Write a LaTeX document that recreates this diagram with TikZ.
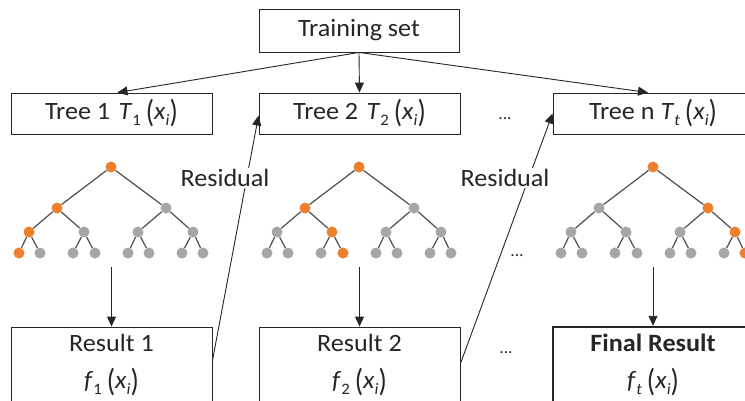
\documentclass[tikz,border=0pt]{standalone}
\usepackage{fontspec}
\usepackage{graphicx}
\setmainfont{Carlito}[FakeStretch=1.05]
\usetikzlibrary{arrows.meta,calc}
\definecolor{treeorange}{HTML}{EE7F2D}
\definecolor{treegray}{HTML}{A6A6A6}
\definecolor{edgegray}{HTML}{4D4D4D}
\newcommand\sbx[1]{\raisebox{-0.25em}{\fontsize{16}{16}\selectfont #1}}
\newcommand\prn[1]{\raisebox{-0.14em}{\scalebox{1.05}[1.28]{#1}}}
\newcommand\fxi[2]{\textit{#1}\sbx{#2}\hspace{0.2em}\prn{(}\textit{x}\sbx{\textit{i}}\prn{)}}
\tikzset{
  box/.style={draw=black!85, line width=0.9bp, minimum width=201bp, minimum height=41bp, inner sep=0pt, font=\fontsize{25}{37}\selectfont, text=black!85},
  resbox/.style={box, minimum height=76bp, align=center},
  arr/.style={draw=black!85, line width=0.9bp, -{Triangle[length=10bp,width=9bp]}},
  dot/.style={circle, inner sep=0pt, minimum size=11bp},
  treeedge/.style={draw=edgegray, line width=1.2bp},
  lbl/.style={font=\fontsize{25}{30}\selectfont, text=black!85, fill=white, inner sep=1bp},
  ell/.style={font=\fontsize{17}{17}\selectfont, text=black!85, inner sep=0pt}
}
\newcommand\gbtree[3]{%
  \foreach \k/\dx/\dy in {1/0/0,2/-54/41,3/55/41,4/-82/65,5/-27/65,6/27/65,7/82/65,
      8/-92/86,9/-71/86,10/-38/86,11/-16/86,12/17/86,13/38/86,14/71/86,15/92/86}{%
    \gdef\dotcol{treegray}%
    \foreach \o in {#3}{\ifnum\o=\k\relax\gdef\dotcol{treeorange}\fi}%
    \node[dot, fill=\dotcol] (#1\k) at (#2+\dx, 167+\dy) {};
  }
  \foreach \k in {2,...,15}{%
    \pgfmathtruncatemacro\parentidx{\k/2}%
    \draw[treeedge] (#1\parentidx) -- (#1\k);
  }
}
\begin{document}
\begin{tikzpicture}[x=1bp,y=-1bp]
\useasboundingbox (0,0) rectangle (745,400);
\clip (0,0) rectangle (745,400);
\fill[white] (0,0) rectangle (745,400);

% top
\node[box, minimum width=200bp, minimum height=43bp] (train) at (359,30.5) {Training set};
\node[box] (t1) at (111.5,113.5) {Tree 1\hspace{0.1em} \fxi{T}{1}};
\node[box] (t2) at (359.5,113.5) {Tree 2\hspace{0.1em} \fxi{T}{2}};
\node[box, minimum width=200bp] (tn) at (653,113.5) {Tree n \fxi{T}{\textit{t}}};
\node[ell] (dtop) at (505,119) {...};

\draw[arr] (train.south) -- ($(t1.north)+(6,0)$);
\draw[arr] (train.south) -- (t2.north);
\draw[arr] (train.south) -- ($(tn.north)+(-5,0)$);

% trees
\gbtree{a}{111}{1,2,4,8}
\gbtree{b}{359}{1,2,5,11}
\gbtree{c}{653}{1,3,7,15}
\node[ell] (dmid) at (517,256) {...};

% results
\node[resbox] (r1) at (111.5,365) {Result 1\\ \fxi{f}{1}};
\node[resbox] (r2) at (359.5,365) {Result 2\\ \fxi{f}{2}};
\node[resbox, minimum width=200bp, line width=2.4bp] (rn) at (653,365) {\textbf{Final Result}\\ \fxi{f}{\textit{t}}};
\node[ell] (dbot) at (506,353) {...};

\coordinate (s1) at (111.5,267);
\coordinate (s2) at (359.5,267);
\coordinate (s3) at (653,267);
\draw[arr] (s1) -- (r1.north);
\draw[arr] (s2) -- (r2.north);
\draw[arr] (s3) -- (rn.north);

% residual
\draw[arr] ($(r1.north east)+(0,34)$) -- ($(t2.west)+(0,2)$);
\draw[arr] ($(r2.north east)+(0,37)$) -- ($(tn.west)+(0,0)$);
\node[lbl] (res1) at (225,178) {Residual};
\node[lbl] (res2) at (505,178) {Residual};
\end{tikzpicture}
\end{document}
